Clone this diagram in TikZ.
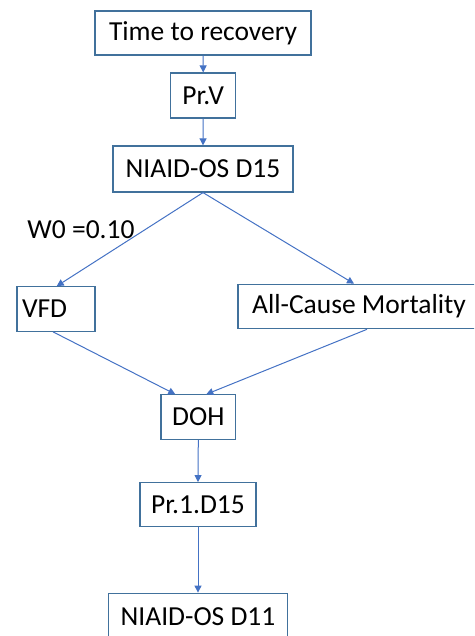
\documentclass[tikz,border=0pt]{standalone}
\usepackage{fontspec}
\setmainfont{Carlito}
\usetikzlibrary{arrows.meta,calc}
\definecolor{boxline}{HTML}{41719C}
\definecolor{arrowblue}{HTML}{4472C4}
\tikzset{
  box/.style={draw=boxline, line width=1.2pt, inner sep=0pt, font=\fontsize{27.5}{32}\selectfont, anchor=center},
  conn/.style={draw=arrowblue, line width=1pt, -{Triangle[width=7pt,length=7pt]}}
}
\begin{document}
\begin{tikzpicture}[x=1pt,y=-1pt]
\useasboundingbox (0,0) rectangle (474,636);
\clip (0,0) rectangle (474,636);
\node[box, minimum width=216pt, minimum height=44pt] (t1) at (203,33) {Time to recovery};
\node[box, minimum width=65pt, minimum height=45pt] (prv) at (203.2,95.5) {Pr.V};
\node[box, minimum width=180pt, minimum height=46pt] (n15) at (203,169) {NIAID-OS D15};
\node[box, minimum width=78pt, minimum height=44.5pt, text width=68pt, align=left, inner xsep=0pt] (vfd) at (56,309) {VFD};
\node[box, minimum width=242pt, minimum height=44.4pt] (acm) at (359,306.5) {All-Cause Mortality};
\node[box, minimum width=74.7pt, minimum height=44.3pt] (doh) at (198.3,417) {DOH};
\node[box, minimum width=116pt, minimum height=44pt] (p1) at (198,504.7) {Pr.1.D15};
\node[box, minimum width=179.4pt, minimum height=47pt] (n11) at (198,616.7) {NIAID-OS D11};
\node[font=\fontsize{27.5}{32}\selectfont, inner sep=0pt] (w0) at (81,229.5) {W0 =0.10};
\draw[conn] (t1.south) -- (prv.north);
\draw[conn] (prv.south) -- (n15.north);
\draw[conn] (n15.south) -- ([xshift=0.7pt]vfd.north);
\draw[conn] (n15.south) -- ([xshift=-5pt]acm.north);
\draw[conn] ([xshift=-3pt]vfd.south) -- ([xshift=-23pt]doh.north);
\draw[conn] ([xshift=8pt]acm.south) -- ([xshift=8pt]doh.north);
\draw[conn] (doh.south) -- (p1.north);
\draw[conn] (p1.south) -- (n11.north);
\end{tikzpicture}
\end{document}
